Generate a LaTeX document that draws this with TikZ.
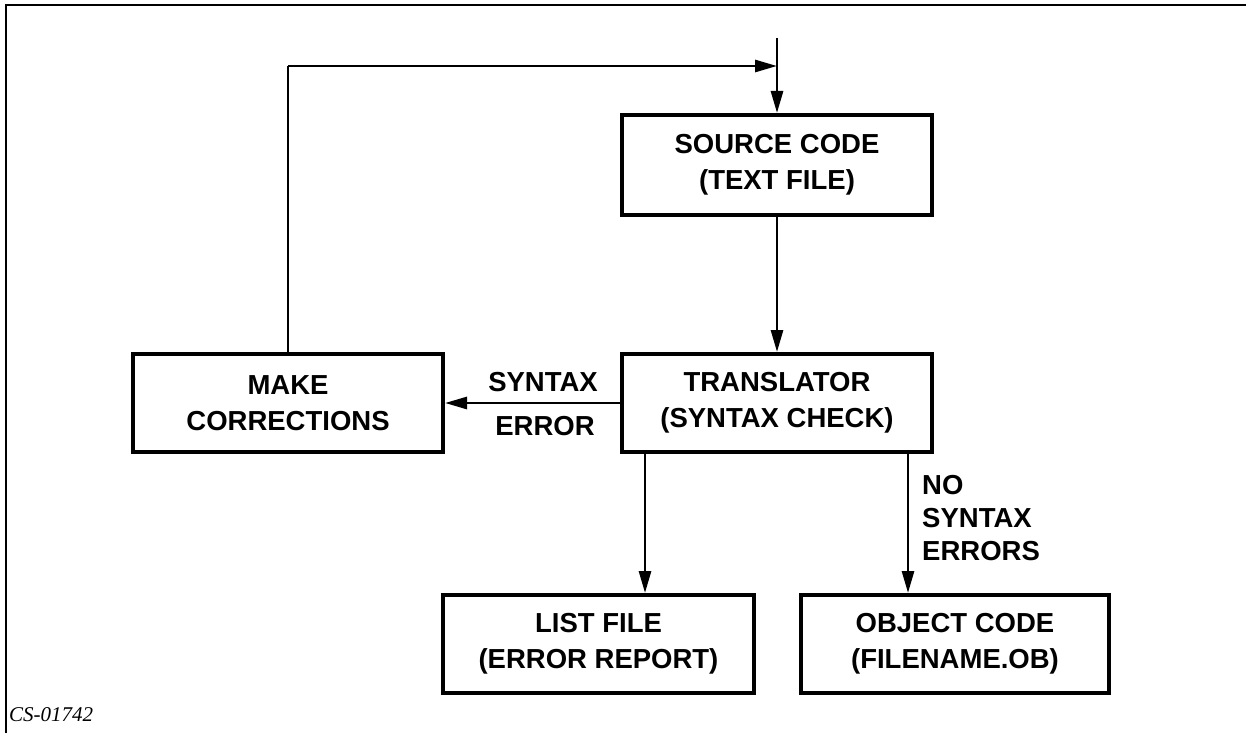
\documentclass[tikz,border=0pt]{standalone}
\usepackage{fontspec}
\setmainfont{Liberation Sans}
\newfontfamily\capfont{Liberation Serif}
\usetikzlibrary{arrows.meta}
\begin{document}
\begin{tikzpicture}[x=1pt,y=-1pt,
  box/.style={draw, line width=4pt, minimum width=310pt, minimum height=98pt,
    align=center, inner sep=0pt, font=\fontsize{27.5}{36}\selectfont\bfseries},
  conn/.style={line width=2.8pt, -{Triangle[length=22pt,width=12pt]}},
  lbl/.style={font=\fontsize{27.5}{36}\selectfont\bfseries, inner sep=0pt, anchor=base},
  frame/.style={line width=2pt}]
\useasboundingbox (0,0) rectangle (1246,733);
% frame
\coordinate (fl) at (6,733);
\coordinate (fc) at (6,5);
\coordinate (fr) at (1246,5);
\draw[frame] (fl) -- (fc) -- (fr);
% boxes
\node[box, minimum height=100pt] (src) at (777,165) {SOURCE CODE\\(TEXT FILE)};
\node[box] (trans) at (777,403) {TRANSLATOR\\(SYNTAX CHECK)};
\node[box] (make) at (288,403) {MAKE\\CORRECTIONS};
\node[box, minimum width=311pt] (list) at (598.5,644) {LIST FILE\\(ERROR REPORT)};
\node[box, minimum width=308pt] (obj) at (955,644) {OBJECT CODE\\(FILENAME.OB)};
% connectors
\coordinate (in) at (777,38);
\coordinate (fbc) at (288,66);
\coordinate (fbe) at (777,66);
\draw[conn] (in) -- (src.north);
\draw[line width=2.8pt] (make.north) -- (fbc);
\draw[conn] (fbc) -- (fbe);
\draw[conn] (src.south) -- (trans.north);
\draw[conn] (trans.west) -- (make.east);
\coordinate (lt) at (645,452);
\coordinate (ot) at (908,452);
\draw[conn] (lt) -- (lt |- list.north);
\draw[conn] (ot) -- (ot |- obj.north);
% labels
\node[lbl] (se1) at (543,391) {SYNTAX};
\node[lbl] (se2) at (545,435) {ERROR};
\node[lbl, anchor=base west] (ns1) at (922,494) {NO};
\node[lbl, anchor=base west] (ns2) at (922,527) {SYNTAX};
\node[lbl, anchor=base west] (ns3) at (922,560) {ERRORS};
\node[anchor=base west, inner sep=0pt, font=\capfont\itshape\fontsize{21}{24}\selectfont] (cs) at (9,721) {CS-01742};
\end{tikzpicture}
\end{document}
